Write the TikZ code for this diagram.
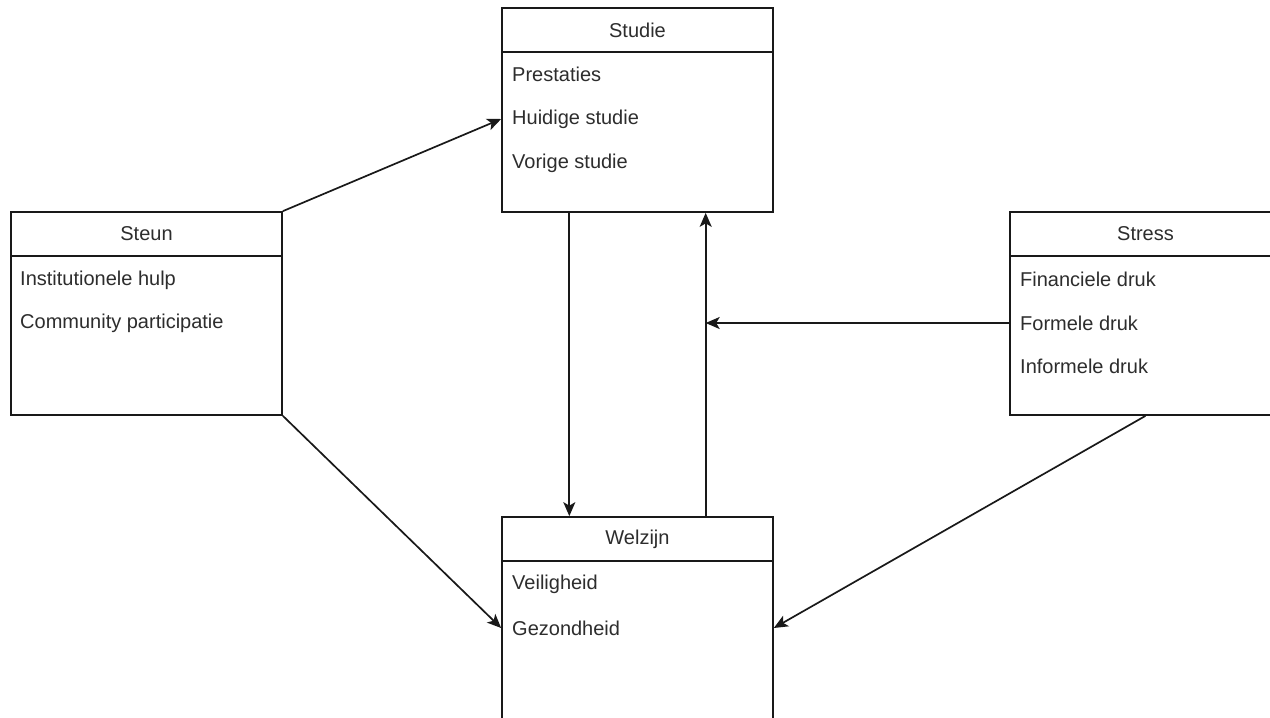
\documentclass[tikz,border=0pt]{standalone}
\usepackage{fontspec}
\setmainfont{Liberation Sans}
\usetikzlibrary{arrows.meta,calc}
\definecolor{ln}{RGB}{25,25,25}
\definecolor{tx}{RGB}{45,45,45}
\tikzset{
  hdr/.style={draw=ln, line width=1.7pt, minimum width=271pt, minimum height=44pt, inner sep=0pt, text=tx, font=\fontsize{20pt}{24pt}\selectfont},
  bodybox/.style={draw=ln, line width=1.7pt, minimum width=271pt, inner sep=0pt},
  item/.style={anchor=west, inner sep=0pt, text=tx, font=\fontsize{20pt}{24pt}\selectfont},
  arr/.style={draw=ln, line width=1.7pt, -{Stealth[length=14pt,width=12pt,inset=3.5pt]}},
}
\begin{document}
\begin{tikzpicture}[x=1pt,y=-1pt]
\clip (0,0) rectangle (1270,718);
\fill[white] (0,0) rectangle (1270,718);
% Studie
\node[hdr] (studieH) at (637.5,30) {Studie};
\node[bodybox, minimum height=160pt] (studieB) at (637.5,132) {};
\node[item] (pr) at (512,74) {Prestaties};
\node[item] (hs) at (512,119) {Huidige studie};
\node[item] (vs) at (512,163) {Vorige studie};
% Steun
\node[hdr] (steunH) at (146.5,234) {Steun};
\node[bodybox, minimum height=159pt] (steunB) at (146.5,335.5) {};
\node[item] (ih) at (20,280) {Institutionele hulp};
\node[item] (cp) at (20,323) {Community participatie};
% Stress
\node[hdr] (stressH) at (1145.5,234) {Stress};
\node[bodybox, minimum height=159pt] (stressB) at (1145.5,335.5) {};
\node[item] (fin) at (1020,279) {Financiele druk};
\node[item] (fd) at (1020,323) {Formele druk};
\node[item] (ifd) at (1020,366) {Informele druk};
% Welzijn
\node[hdr] (welzijnH) at (637.5,539) {Welzijn};
\node[bodybox, minimum height=170pt] (welzijnB) at (637.5,646) {};
\node[item] (vh) at (512,584) {Veiligheid};
\node[item] (gz) at (512,628) {Gezondheid};
% connection points
\coordinate (s1) at ($(studieB.south west)!0.25!(studieB.south east)$);
\coordinate (s2) at ($(studieB.south west)!0.75!(studieB.south east)$);
\coordinate (w1) at ($(welzijnH.north west)!0.25!(welzijnH.north east)$);
\coordinate (w2) at ($(welzijnH.north west)!0.75!(welzijnH.north east)$);
\coordinate (j) at (w2 |- fd);
% connectors
\draw[arr] (steunH.north east) -- (studieB.west |- hs);
\draw[arr] (steunB.south east) -- (welzijnB.west |- gz);
\draw[arr] (s1) -- (w1);
\draw[arr] (w2) -- (s2);
\draw[arr] (stressB.west |- fd) -- (j);
\draw[arr] (stressB.south) -- (welzijnB.east |- gz);
\end{tikzpicture}
\end{document}
